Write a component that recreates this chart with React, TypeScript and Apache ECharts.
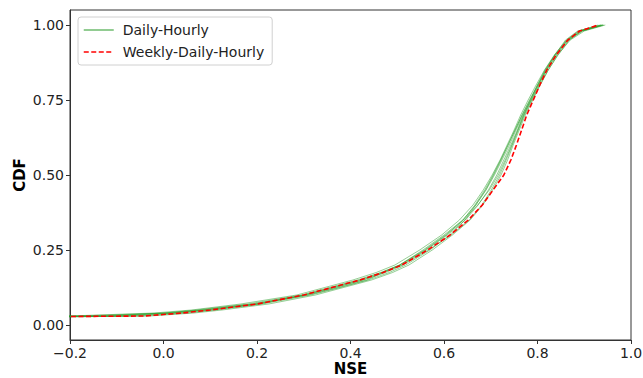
import React, { useEffect, useRef } from "react";
import * as echarts from "echarts";

// CDF levels shared by all runs (y values)
const CDF_LEVELS = [0.02, 0.03, 0.04, 0.05, 0.07, 0.1, 0.125, 0.15, 0.175, 0.2, 0.25, 0.3, 0.35, 0.4, 0.45, 0.5, 0.55, 0.6, 0.65, 0.7, 0.75, 0.8, 0.85, 0.9, 0.95, 0.98, 1.0];

// NSE quantiles for the Weekly-Daily-Hourly run
const WEEKLY_DAILY_HOURLY = [-1.0, -0.04, 0.04, 0.1, 0.2, 0.3, 0.36, 0.42, 0.47, 0.51, 0.565, 0.613, 0.652, 0.682, 0.705, 0.728, 0.743, 0.755, 0.766, 0.777, 0.791, 0.805, 0.82, 0.84, 0.865, 0.89, 0.93];

// NSE quantiles for the Daily-Hourly runs
const DH_RUN_1 = [-0.9, -0.12, 0.0, 0.08, 0.19, 0.31, 0.375, 0.435, 0.47, 0.505, 0.555, 0.6, 0.64, 0.668, 0.69, 0.708, 0.724, 0.74, 0.754, 0.769, 0.786, 0.802, 0.818, 0.838, 0.865, 0.895, 0.94];
const DH_RUN_2 = [-1.2, -0.2, -0.02, 0.06, 0.165, 0.285, 0.345, 0.405, 0.455, 0.495, 0.548, 0.595, 0.633, 0.662, 0.684, 0.703, 0.72, 0.735, 0.75, 0.764, 0.78, 0.797, 0.815, 0.836, 0.862, 0.888, 0.93];
const DH_RUN_3 = [-0.7, -0.03, 0.065, 0.125, 0.225, 0.325, 0.385, 0.445, 0.49, 0.525, 0.575, 0.618, 0.656, 0.683, 0.704, 0.722, 0.736, 0.748, 0.761, 0.774, 0.79, 0.806, 0.823, 0.843, 0.87, 0.9, 0.945];
const DH_RUN_4 = [-1.1, -0.15, 0.02, 0.09, 0.2, 0.3, 0.365, 0.425, 0.47, 0.51, 0.562, 0.607, 0.646, 0.673, 0.695, 0.713, 0.728, 0.743, 0.757, 0.77, 0.785, 0.8, 0.816, 0.837, 0.86, 0.886, 0.935];
const DH_RUN_5 = [-0.8, -0.08, 0.03, 0.1, 0.21, 0.315, 0.378, 0.438, 0.483, 0.518, 0.57, 0.612, 0.645, 0.668, 0.689, 0.706, 0.722, 0.737, 0.752, 0.767, 0.784, 0.801, 0.819, 0.841, 0.867, 0.894, 0.94];
const DH_RUN_6 = [-1.0, -0.18, 0.005, 0.07, 0.18, 0.295, 0.355, 0.415, 0.465, 0.505, 0.558, 0.603, 0.642, 0.672, 0.697, 0.716, 0.731, 0.745, 0.758, 0.771, 0.787, 0.803, 0.82, 0.84, 0.864, 0.892, 0.938];
const DH_RUN_7 = [-0.6, -0.05, 0.05, 0.11, 0.205, 0.305, 0.368, 0.428, 0.475, 0.512, 0.567, 0.615, 0.654, 0.681, 0.701, 0.719, 0.733, 0.746, 0.759, 0.772, 0.788, 0.805, 0.823, 0.844, 0.868, 0.896, 0.942];
const DH_RUN_8 = [-1.3, -0.1, 0.015, 0.085, 0.195, 0.3, 0.36, 0.42, 0.466, 0.506, 0.56, 0.605, 0.641, 0.666, 0.687, 0.705, 0.721, 0.737, 0.752, 0.767, 0.783, 0.8, 0.817, 0.837, 0.863, 0.89, 0.936];

const DAILY_HOURLY_RUNS = [DH_RUN_1, DH_RUN_2, DH_RUN_3, DH_RUN_4, DH_RUN_5, DH_RUN_6, DH_RUN_7, DH_RUN_8];

const X_TICKS = [-0.2, 0.0, 0.2, 0.4, 0.6, 0.8, 1.0];
const Y_TICKS = [0.0, 0.25, 0.5, 0.75, 1.0];

const X_TITLE = "NSE";
const Y_TITLE = "CDF";

const FONT = "DejaVu Sans";

export default function App() {
  const ref = useRef<HTMLDivElement>(null);

  useEffect(() => {
    document.body.style.margin = "0";
    if (!ref.current) return;
    const chart = echarts.init(ref.current, null, { renderer: "svg" });

    const toPairs = (xs: number[]) => xs.map((x, i) => [x, CDF_LEVELS[i]]);

    const greenSeries = DAILY_HOURLY_RUNS.map((run) => ({
      name: "Daily-Hourly",
      type: "line",
      data: toPairs(run),
      showSymbol: false,
      symbol: "none",
      clip: true,
      color: "#4aaa4a",
      lineStyle: { color: "rgba(44,160,44,0.5)", width: 1 },
      z: 2,
    }));

    const option: any = {
      animation: false,
      textStyle: { fontFamily: FONT },
      grid: {
        left: 70,
        right: 12,
        top: 10,
        bottom: 38,
        outerBoundsMode: "none",
        containLabel: false,
        show: true,
        borderColor: "#333",
        borderWidth: 1,
        backgroundColor: "transparent",
      },
      graphic: [
        {
          type: "text",
          x: 350.5,
          y: 369,
          style: {
            text: X_TITLE,
            font: `bold 15px "${FONT}"`,
            fill: "#000",
            textAlign: "center",
            textVerticalAlign: "middle",
          },
        },
        {
          type: "text",
          x: 20,
          y: 175,
          rotation: Math.PI / 2,
          style: {
            text: Y_TITLE,
            font: `bold 15px "${FONT}"`,
            fill: "#000",
            textAlign: "center",
            textVerticalAlign: "middle",
          },
        },
      ],
      legend: {
        left: 78,
        top: 17,
        orient: "vertical",
        itemWidth: 30,
        itemHeight: 10,
        itemGap: 8,
        padding: [6, 8, 6, 5],
        borderColor: "#d0d0d0",
        borderWidth: 1,
        borderRadius: 3,
        backgroundColor: "rgba(255,255,255,0.8)",
        itemStyle: { opacity: 0 },
        textStyle: { fontFamily: FONT, fontSize: 14, color: "#222", padding: [0, 0, 0, 4] },
        data: [
          { name: "Daily-Hourly", lineStyle: { color: "#4aaa4a", width: 1.2 } },
          { name: "Weekly-Daily-Hourly", lineStyle: { color: "#ff0000", width: 1.5 } },
        ],
      },
      xAxis: {
        type: "value",
        min: -0.2,
        max: 1.0,
        splitLine: { show: false },
        axisLine: { show: true, onZero: false, lineStyle: { color: "#333", width: 1 } },
        axisTick: { show: true, customValues: X_TICKS, length: 4, lineStyle: { color: "#333" } },
        axisLabel: {
          customValues: X_TICKS,
          fontFamily: FONT,
          fontSize: 14,
          color: "#222",
          margin: 6,
          formatter: (v: number) => v.toFixed(1).replace("-", "\u2212"),
        },
      },
      yAxis: {
        type: "value",
        min: -0.05,
        max: 1.05,
        splitLine: { show: false },
        axisLine: { show: true, onZero: false, lineStyle: { color: "#333", width: 1 } },
        axisTick: { show: true, customValues: Y_TICKS, length: 4, lineStyle: { color: "#333" } },
        axisLabel: {
          customValues: Y_TICKS,
          fontFamily: FONT,
          fontSize: 14,
          color: "#222",
          margin: 6,
          formatter: (v: number) => v.toFixed(2),
        },
      },
      series: [
        ...greenSeries,
        {
          name: "Weekly-Daily-Hourly",
          type: "line",
          data: toPairs(WEEKLY_DAILY_HOURLY),
          showSymbol: false,
          symbol: "none",
          clip: true,
          color: "#ff0000",
          lineStyle: { color: "#ff0000", width: 1.6, type: [5, 2.5] },
          z: 3,
        },
      ],
    };

    chart.setOption(option);
    return () => chart.dispose();
  }, []);

  return <div ref={ref} style={{ width: 643, height: 378 }} />;
}
